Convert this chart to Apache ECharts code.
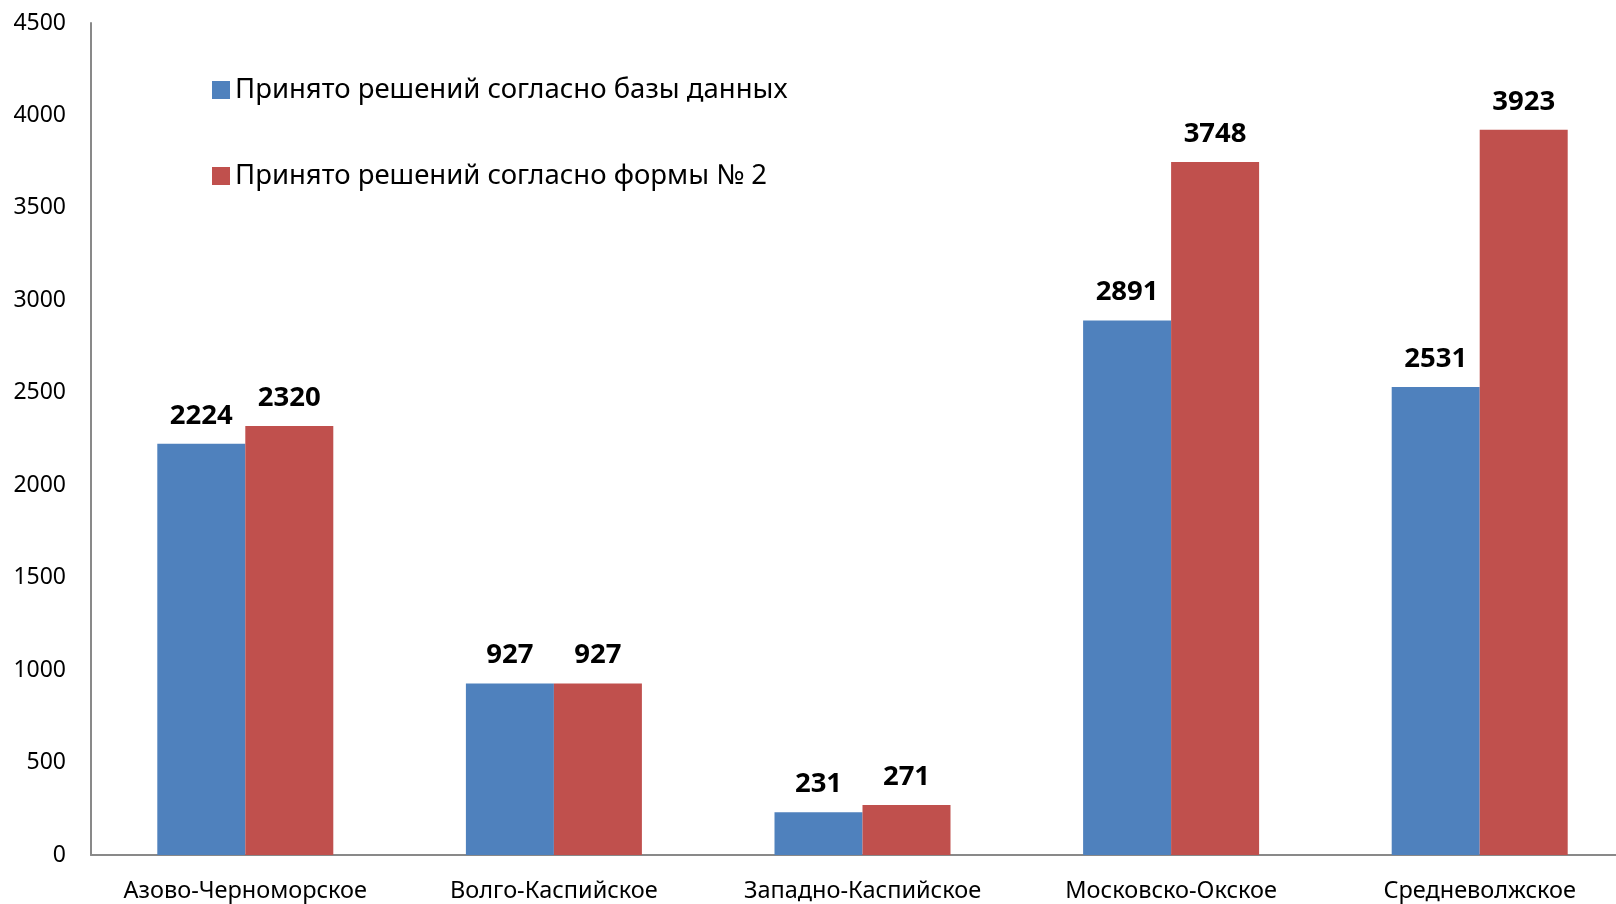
<!DOCTYPE html>
<html><head><meta charset="utf-8">
<script src="https://cdn.jsdelivr.net/npm/echarts@6/dist/echarts.min.js"></script>
<style>html,body{margin:0;padding:0;background:#fff;overflow:hidden;width:1616px;height:904px}#c{width:1634px;height:904px}</style>
</head><body><div id="c"></div>
<script>
const categories = ['Азово-Черноморское','Волго-Каспийское','Западно-Каспийское','Московско-Окское','Средневолжское'];
const seriesNames = ['Принято решений согласно базы данных','Принято решений согласно формы № 2'];
const valuesDb = [2224, 927, 231, 2891, 2531];
const valuesForm2 = [2320, 927, 271, 3748, 3923];
const yTicks = {min: 0, max: 4500, interval: 500};

const font = 'Noto Sans';
const chart = echarts.init(document.getElementById('c'));
const label = {show: true, position: 'top', distance: 14, fontFamily: font, fontSize: 27.5, fontWeight: 'bold', color: '#000'};
chart.setOption({
  animation: false,
  textStyle: {fontFamily: font},
  grid: {left: 91, top: 23, right: 0, height: 832, containLabel: false},
  legend: {
    orient: 'vertical', left: 207, top: 70, itemWidth: 18, itemHeight: 18, itemGap: 56,
    icon: 'rect',
    textStyle: {fontFamily: font, fontSize: 27.5, color: '#000', lineHeight: 30, padding: [0,0,0,0]},
    data: seriesNames
  },
  xAxis: {
    type: 'category', data: categories,
    axisLine: {lineStyle: {color: '#898989', width: 2}},
    axisTick: {show: false},
    axisLabel: {fontFamily: font, fontSize: 23.5, color: '#000', margin: 24, interval: 0}
  },
  yAxis: {
    type: 'value', min: yTicks.min, max: yTicks.max, interval: yTicks.interval,
    axisLine: {show: true, lineStyle: {color: '#898989', width: 2}},
    axisTick: {show: false},
    splitLine: {show: false},
    axisLabel: {fontFamily: font, fontSize: 23, color: '#000', margin: 25, formatter: v => String(v)}
  },
  series: [
    {name: seriesNames[0], type: 'bar', data: valuesDb, barWidth: 88, barGap: '0%', itemStyle: {color: '#4F81BD'}, label},
    {name: seriesNames[1], type: 'bar', data: valuesForm2, barWidth: 88, barGap: '0%', itemStyle: {color: '#C0504D'}, label}
  ]
});
</script></body></html>
